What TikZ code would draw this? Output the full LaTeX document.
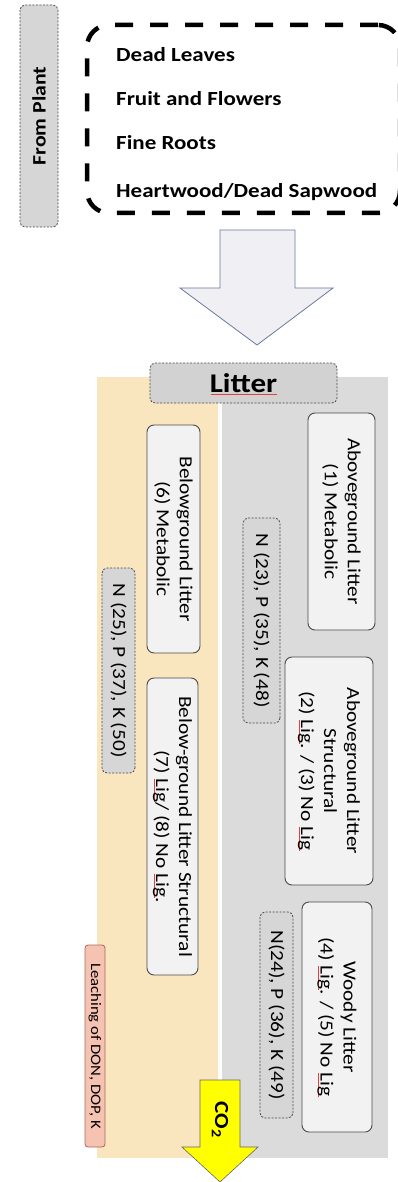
\documentclass[tikz,border=0pt]{standalone}
\usepackage{fontspec}
\setmainfont[FakeStretch=1.15]{Carlito}
\usetikzlibrary{calc}
\definecolor{tanbg}{HTML}{FAE6BE}
\definecolor{graybg}{HTML}{DBDBDB}
\definecolor{boxfill}{HTML}{F2F2F2}
\definecolor{boxline}{HTML}{4A4A4A}
\definecolor{dfill}{HTML}{D6D6D6}
\definecolor{arrowline}{HTML}{6878A0}
\definecolor{arrowfill}{HTML}{F0F0F4}
\definecolor{pinkfill}{HTML}{F6C3B3}
\definecolor{pinkline}{HTML}{A86858}
\definecolor{co2yellow}{HTML}{FFFF00}
\definecolor{squigred}{HTML}{E04040}
\newcommand\sqline[1]{{\setbox0\hbox{#1}\rlap{\textcolor{squigred}{\rule[-2.5pt]{\wd0}{0.6pt}}}\box0}}
\tikzset{
  dbox/.style={draw=boxline, dash pattern=on 2pt off 1.5pt, fill=dfill, rounded corners=5pt, line width=0.8pt, inner sep=0pt},
  lbox/.style={draw=boxline, fill=boxfill, rounded corners=7pt, line width=0.9pt, rotate=-90, align=center, inner sep=1pt, font=\fontsize{18.5}{23}\selectfont},
  nbox/.style={dbox, rotate=-90, font=\fontsize{18.5}{21}\selectfont},
  item/.style={anchor=west, inner sep=0pt, font=\bfseries\fontsize{20}{24}\selectfont},
}
\begin{document}
\begin{tikzpicture}[x=1pt,y=-1pt]
\useasboundingbox (0,0) rectangle (398,1182);
% background regions
\fill[tanbg] (97,377) rectangle (218,1158);
\fill[graybg] (222,377) rectangle (388,1158);
% From Plant
\node[dbox, rotate=90, minimum width=222pt, minimum height=38pt, font=\bfseries\fontsize{19}{23}\selectfont] (plant) at (39,116) {From Plant};
% source box
\begin{scope}
\clip (0,0) rectangle (398,1182);
\node[draw=black, line width=4.5pt, dash pattern=on 18pt off 17pt, rounded corners=22pt, minimum width=313pt, minimum height=188pt, inner sep=0pt] (src) at (243.5,119) {};
\end{scope}
\node[item] (t1) at (116,55) {Dead Leaves};
\node[item] (t2) at (116,99) {Fruit and Flowers};
\node[item] (t3) at (116,143) {Fine Roots};
\node[item] (t4) at (116,192) {Heartwood/Dead Sapwood};
% big arrow
\draw[arrowline, fill=arrowfill, line width=0.8pt] (220,230) -- (295,230) -- (295,288) -- (333,288) -- (257,345) -- (180,288) -- (220,288) -- cycle;
% Litter
\node[dbox, fill=gray!35, minimum width=187pt, minimum height=40pt, font=\bfseries\fontsize{27}{31}\selectfont] (litter) at (243.5,383) {Litter};
\draw[squigred, line width=0.7pt] ($(litter.center)+(-33,11.5)$) -- ($(litter.center)+(33,11.5)$);
% belowground
\node[lbox, minimum width=228pt, minimum height=53pt] (bm) at (173.5,539) {Belowground Litter\\(6) Metabolic};
\node[lbox, minimum width=297pt, minimum height=51pt] (bs) at (172.5,826.5) {Below-ground Litter Structural\\(7) \sqline{Lig}/ (8) No \sqline{Lig}.};
\node[nbox, minimum width=205pt, minimum height=33pt] (n25) at (118.5,670.5) {N (25), P (37), K (50)};
\node[draw=pinkline, fill=pinkfill, rounded corners=3pt, line width=0.8pt, rotate=-90, inner sep=0pt, minimum width=202pt, minimum height=20pt, font=\fontsize{14.5}{16}\selectfont] (leach) at (95,1046) {Leaching of DON, DOP, K};
% aboveground
\node[lbox, minimum width=217pt, minimum height=67pt] (am) at (341.5,521.5) {Aboveground Litter\\(1) Metabolic};
\node[nbox, minimum width=205pt, minimum height=37pt] (n23) at (261.5,620.5) {N (23), P (35), K (48)};
\node[lbox, minimum width=228pt, minimum height=88pt] (as) at (329,771) {Aboveground Litter\\Structural\\(2) \sqline{Lig}. / (3) No \sqline{Lig}};
\node[lbox, minimum width=230pt, minimum height=70pt] (wl) at (337,1017) {Woody Litter\\(4) \sqline{Lig}. / (5) No \sqline{Lig}};
\node[nbox, minimum width=206pt, minimum height=33pt] (n24) at (276.5,1015) {N(24), P (36), K (49)};
% CO2 arrow
\draw[black!60, fill=co2yellow, line width=0.6pt] (200,1080) -- (240,1080) -- (240,1147) -- (258,1147) -- (220,1182) -- (182,1147) -- (200,1147) -- cycle;
\node[rotate=-90, inner sep=0pt, font=\bfseries\fontsize{20}{24}\selectfont] (co2) at (220,1120) {CO\textsubscript{2}};
\end{tikzpicture}
\end{document}
